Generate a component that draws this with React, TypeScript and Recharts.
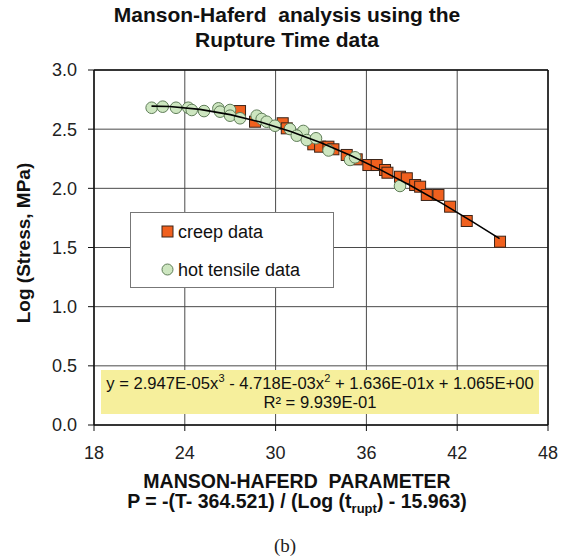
import React from 'react';
import { ComposedChart, Scatter, XAxis, YAxis, CartesianGrid, ReferenceLine, Legend } from 'recharts';

// Creep data (Manson-Haferd parameter P, log stress)
const creepP = [27.65, 28.64, 30.47, 30.74, 32.49, 32.94, 33.49, 33.82, 34.7, 35.36, 36.13, 36.68, 37.23, 37.39, 38.22, 38.67, 39.22, 39.55, 39.99, 40.76, 41.53, 42.63, 44.83];
const creepLogS = [2.653, 2.563, 2.55, 2.507, 2.372, 2.352, 2.352, 2.33, 2.282, 2.245, 2.197, 2.197, 2.155, 2.132, 2.098, 2.085, 2.028, 2.014, 1.944, 1.944, 1.845, 1.724, 1.549];

// Hot tensile data
const hotP = [21.81, 22.54, 23.42, 24.23, 24.46, 25.27, 26.22, 26.33, 26.99, 26.99, 27.65, 28.75, 29.08, 29.41, 29.96, 30.95, 31.83, 31.4, 32.06, 32.67, 33.5, 34.92, 35.25, 38.22];
const hotLogS = [2.681, 2.69, 2.681, 2.681, 2.662, 2.653, 2.676, 2.648, 2.662, 2.614, 2.592, 2.614, 2.586, 2.563, 2.529, 2.501, 2.485, 2.445, 2.408, 2.423, 2.32, 2.24, 2.262, 2.02];

// Trend line
const fitP = [21.8, 23, 25, 27, 29, 31, 33, 35, 37, 39, 41, 43, 44.8];
const fitLogS = [2.695, 2.691, 2.667, 2.623, 2.56, 2.481, 2.385, 2.275, 2.152, 2.018, 1.873, 1.719, 1.575];

const xTicks = [18, 24, 30, 36, 42, 48];
const yTicks = [0, 0.5, 1, 1.5, 2, 2.5, 3];

const creepData = creepP.map((x, i) => ({ x, y: creepLogS[i] }));
const hotData = hotP.map((x, i) => ({ x, y: hotLogS[i] }));
const fitData = fitP.map((x, i) => ({ x, y: fitLogS[i] }));

const FONT = '"Liberation Sans", Arial, sans-serif';
const ORANGE = '#f0601e';
const ORANGE_STROKE = '#3b2418';
const GREEN = '#cde6c0';
const GREEN_STROKE = '#5f7d58';

const SquareShape = (p: any) => (
  <rect x={p.cx - 5.5} y={p.cy - 5.5} width={11} height={11} fill={ORANGE} stroke={ORANGE_STROKE} strokeWidth={1} />
);
const CircleShape = (p: any) => (
  <circle cx={p.cx} cy={p.cy} r={5.8} fill={GREEN} stroke={GREEN_STROKE} strokeWidth={1} />
);
const NoShape = () => <g />;

const LegendBox = () => (
  <svg width={204} height={76} style={{ display: 'block' }}>
    <rect x={0.5} y={0.5} width={203} height={75} fill="#fff" stroke="#777" strokeWidth={1} />
    <rect x={32} y={14} width={11} height={11} fill={ORANGE} stroke={ORANGE_STROKE} strokeWidth={1} />
    <text x={48} y={20} dominantBaseline="central" fontSize={18} fontFamily={FONT} fill="#111">creep data</text>
    <circle cx={37.5} cy={57.5} r={5.5} fill={GREEN} stroke={GREEN_STROKE} strokeWidth={1} />
    <text x={48} y={57.5} dominantBaseline="central" fontSize={18} fontFamily={FONT} fill="#111">hot tensile data</text>
  </svg>
);

export default function App() {
  return (
    <div style={{ position: 'absolute', left: 0, top: 0, width: 568, height: 559, background: '#fff', fontFamily: FONT }}>
      <ComposedChart
        width={568}
        height={559}
        margin={{ top: 70, right: 20, left: 0, bottom: 104 }}
      >
        <CartesianGrid stroke="#4a4a4a" strokeWidth={1} />
        <XAxis
          type="number"
          dataKey="x"
          domain={[18, 48]}
          ticks={xTicks}
          allowDataOverflow
          height={30}
          tickSize={6}
          tickMargin={15}
          tick={{ fontSize: 18, fill: '#222', fontFamily: FONT }}
          axisLine={{ stroke: '#111', strokeWidth: 1.5 }}
          tickLine={{ stroke: '#111' }}
        />
        <YAxis
          type="number"
          dataKey="y"
          domain={[0, 3]}
          ticks={yTicks}
          allowDataOverflow
          width={94}
          tickSize={6}
          tickMargin={11}
          tickFormatter={(v: number) => v.toFixed(1)}
          tick={{ fontSize: 18, fill: '#222', fontFamily: FONT }}
          axisLine={{ stroke: '#111', strokeWidth: 1.5 }}
          tickLine={{ stroke: '#111' }}
        />
        <ReferenceLine y={3} stroke="#111" strokeWidth={1.5} />
        <ReferenceLine x={48} stroke="#111" strokeWidth={1.5} />
        <Scatter name="creep data" data={creepData} shape={SquareShape} isAnimationActive={false} />
        <Scatter name="hot tensile data" data={hotData} shape={CircleShape} isAnimationActive={false} />
        <Scatter
          name="fit"
          data={fitData}
          shape={NoShape}
          line={{ stroke: '#000', strokeWidth: 1.6 }}
          lineType="joint"
          isAnimationActive={false}
        />
        <Legend
          layout="horizontal"
          verticalAlign="middle"
          align="center"
          wrapperStyle={{ left: 130, top: 212, width: 204, height: 76 }}
          content={() => <LegendBox />}
        />
      </ComposedChart>

      {/* Title */}
      <div style={{ position: 'absolute', left: 0, top: 2, width: 574, textAlign: 'center', fontSize: 21, fontWeight: 'bold', lineHeight: '25px', color: '#111' }}>
        <div style={{ whiteSpace: 'pre' }}>Manson-Haferd  analysis using the</div>
        <div>Rupture Time data</div>
      </div>

      {/* Y axis title */}
      <div style={{ position: 'absolute', left: 24 - 110, top: 243 - 12, width: 220, height: 24, lineHeight: '24px', textAlign: 'center', transform: 'rotate(-90deg)', fontSize: 19, fontWeight: 'bold', color: '#111' }}>
        Log (Stress, MPa)
      </div>

      {/* Equation box */}
      <div style={{ position: 'absolute', left: 101, top: 370, width: 438, height: 44, background: '#f6ef9c', textAlign: 'center', fontSize: 16.6, lineHeight: '19px', color: '#111', paddingTop: 4, boxSizing: 'border-box' }}>
        <div style={{ whiteSpace: 'nowrap' }}>
          y = 2.947E-05x<sup style={{ fontSize: 11, lineHeight: 0 }}>3</sup> - 4.718E-03x<sup style={{ fontSize: 11, lineHeight: 0 }}>2</sup> + 1.636E-01x + 1.065E+00
        </div>
        <div>R² = 9.939E-01</div>
      </div>

      {/* X axis title */}
      <div style={{ position: 'absolute', left: 0, top: 471, width: 594, textAlign: 'center', fontSize: 19.5, fontWeight: 'bold', lineHeight: '20px', color: '#111' }}>
        <div style={{ whiteSpace: 'pre' }}>MANSON-HAFERD  PARAMETER</div>
        <div style={{ whiteSpace: 'nowrap' }}>
          P = -(T- 364.521) / (Log (t<sub style={{ fontSize: 13, lineHeight: 0 }}>rupt</sub>) - 15.963)
        </div>
      </div>

      {/* Panel label */}
      <div style={{ position: 'absolute', left: 0, top: 535, width: 570, textAlign: 'center', fontSize: 19, lineHeight: '22px', fontFamily: '"Liberation Serif", "Times New Roman", serif', color: '#222' }}>
        (b)
      </div>
    </div>
  );
}
